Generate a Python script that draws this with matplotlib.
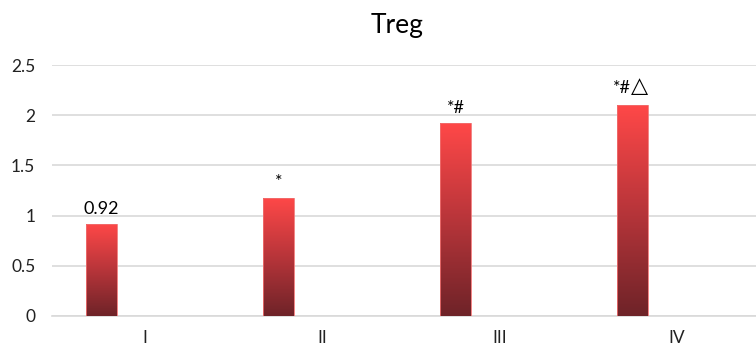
import numpy as np
import matplotlib.pyplot as plt
from matplotlib.colors import LinearSegmentedColormap

groups = ["I", "II", "III", "IV"]
treg = [0.92, 1.18, 1.92, 2.10]
marks = ["0.92", "*", "*#", "*#"]
extra = ["", "", "", "\u25b3"]

plt.rcParams['font.family'] = ['Lato', 'DejaVu Sans']

fig = plt.figure(figsize=(7.56, 3.5), dpi=100)
# 0 -> 316 px and 2.5 -> 65 px
ax = fig.add_axes([52 / 756, (350 - 316) / 350, 1 - 52 / 756, (316 - 65) / 350])

grad = LinearSegmentedColormap.from_list("redgrad", ["#6e2328", "#b8353a", "#ff4848"])
img = np.linspace(0, 1, 256).reshape(-1, 1)

x = np.arange(len(groups))
offset = -0.245
width = 0.175
for xi, v, m, e in zip(x, treg, marks, extra):
    left = xi + offset - width / 2
    im = ax.imshow(img, cmap=grad, origin="lower", aspect="auto",
                   extent=[left, left + width, 0, v], zorder=3)
    rect = plt.Rectangle((left, 0), width, v, facecolor="none",
                         edgecolor="#f07070", linewidth=0.6, zorder=4)
    ax.add_patch(rect)
    im.set_clip_path(rect)
    if e:
        t = ax.text(xi + offset - 0.06, v + 0.09, m, ha="center", va="bottom",
                    fontsize=13, color="black")
        ax.annotate(e, xy=(1, 0), xycoords=t, ha="left", va="bottom",
                    fontsize=16, family="DejaVu Sans", fontweight="bold",
                    color="black")
    else:
        ax.text(xi + offset, v + 0.07, m, ha="center", va="bottom",
                fontsize=13, color="black")

ax.set_xlim(-0.525, 3.45)
ax.set_ylim(0, 2.5)
ax.set_yticks([0, 0.5, 1, 1.5, 2, 2.5])
ax.set_yticklabels(["0", "0.5", "1", "1.5", "2", "2.5"])
ax.set_xticks(x)
ax.set_xticklabels(groups)
ax.tick_params(axis="both", length=0, labelsize=12.5, colors="#222222")
ax.tick_params(axis="y", pad=12)
ax.tick_params(axis="x", pad=10)
ax.grid(axis="y", color="#d9d9d9", linewidth=1.2, zorder=0)
for s in ["top", "right", "left"]:
    ax.spines[s].set_visible(False)
ax.spines["bottom"].set_color("#d9d9d9")
ax.spines["bottom"].set_linewidth(1.2)

fig.text(397 / 756, 1 - 25 / 350, "Treg", ha="center", va="center", fontsize=19)

plt.savefig("out.png", dpi=100)
